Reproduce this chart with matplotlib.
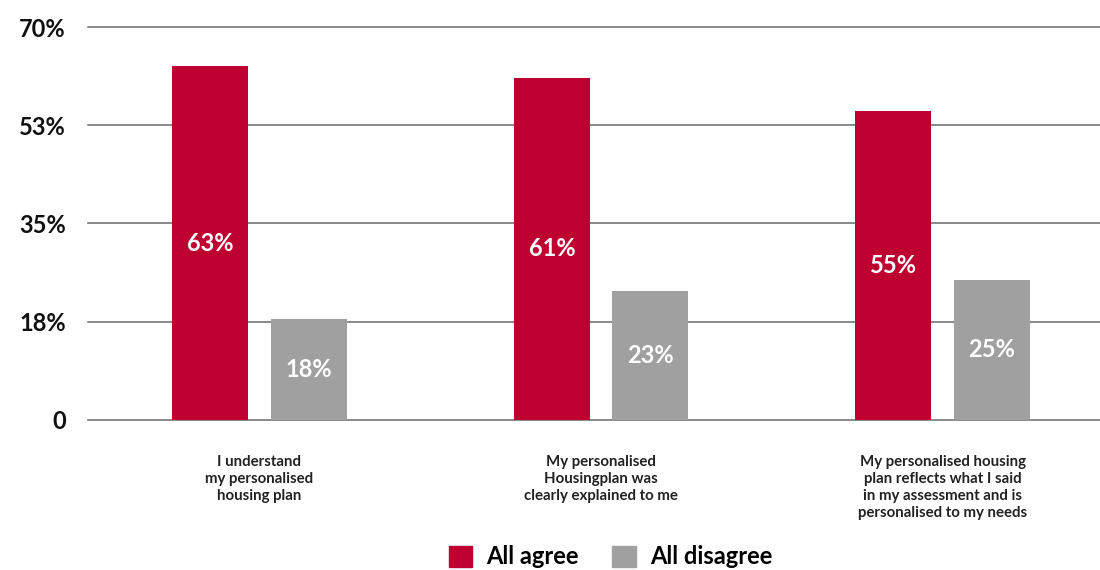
import matplotlib
matplotlib.use("Agg")
import matplotlib.pyplot as plt
from matplotlib.patches import Patch
import numpy as np

plt.rcParams['font.family'] = ['Lato', 'DejaVu Sans']

categories = [
    "I understand\nmy personalised\nhousing plan",
    "My personalised\nHousingplan was\nclearly explained to me",
    "My personalised housing\nplan reflects what I said\nin my assessment and is\npersonalised to my needs",
]
agree = [63, 61, 55]
disagree = [18, 23, 25]
series_names = ["All agree", "All disagree"]
ytick_vals = [0, 17.5, 35, 52.5, 70]
ytick_labels = ["0", "18%", "35%", "53%", "70%"]

red = "#be0030"
grey = "#a0a0a0"

fig = plt.figure(figsize=(11, 5.7), dpi=100)
ax = fig.add_axes([0.08, 0.2632, 0.92, 0.6894])

x = np.arange(len(categories))
w = 0.2225
off = 0.144

b1 = ax.bar(x - off, agree, w, color=red, zorder=3)
b2 = ax.bar(x + off, disagree, w, color=grey, zorder=3)

# value labels in the middle of each bar
for bars, vals in [(b1, agree), (b2, disagree)]:
    for b, v in zip(bars, vals):
        ax.text(b.get_x() + b.get_width() / 2, v / 2, f"{v}%",
                ha="center", va="center", color="white",
                fontsize=17, fontweight="bold", zorder=4)

ax.set_xlim(-0.502, 2.461)
ax.set_ylim(0, 70)
ax.set_yticks(ytick_vals)
ax.set_yticklabels(ytick_labels, fontsize=17, fontweight="bold", color="#111111")
ax.tick_params(axis="y", length=0, pad=16)
ax.set_xticks([])

for yv in ytick_vals:
    ax.axhline(yv, color="#6a6a6a", lw=1.1, zorder=1, clip_on=False)

for s in ax.spines.values():
    s.set_visible(False)

# category captions under each group
for xi, c in zip(x, categories):
    ax.text(xi, -6.3, c, ha="center", va="top", fontsize=10.8,
            fontweight="bold", color="#222222", linespacing=1.25)

handles = [Patch(color=red), Patch(color=grey)]
fig.legend(handles, series_names, loc="center", bbox_to_anchor=(0.555, 0.023),
           ncol=2, frameon=False, handlelength=1.0,
           handleheight=1.0, handletextpad=0.6, columnspacing=1.4,
           prop={'weight': 'bold', 'size': 17})

fig.savefig("out.png", dpi=100)
